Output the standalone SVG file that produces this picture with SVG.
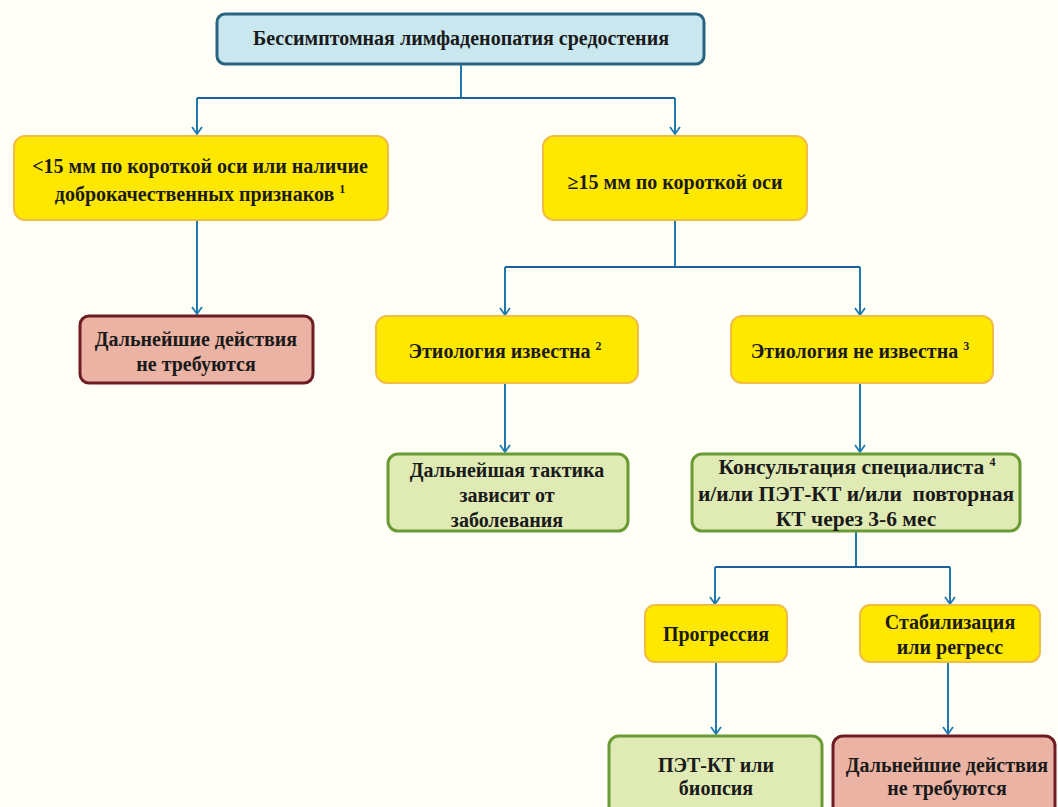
<svg xmlns="http://www.w3.org/2000/svg" width="1058" height="807" viewBox="0 0 1058 807">
<defs>
<marker id="arr" viewBox="0 0 12 12" refX="11" refY="6" markerWidth="12" markerHeight="12" markerUnits="userSpaceOnUse" orient="auto">
<path d="M4,1 L11,6 L4,11" fill="none" stroke="#1f7db3" stroke-width="1.8"/>
</marker>
<style>
text{font-family:"Liberation Serif","DejaVu Serif",serif;font-weight:bold;font-size:20px;fill:#1a1a1a;text-anchor:middle}
.sup{font-size:12px}
.big{font-size:21.5px}
.cyan{fill:#c8e7ef;stroke:#2b6480;stroke-width:3}
.yel{fill:#ffe800;stroke:#f2bd45;stroke-width:2}
.grn{fill:#dfeab4;stroke:#6a9b34;stroke-width:3}
.red{fill:#eab3a3;stroke:#6c1c22;stroke-width:3}
.con{fill:none;stroke:#1f78ad;stroke-width:2}
.hcon{fill:none;stroke:#1d5f98;stroke-width:2.2}
</style>
</defs>
<rect width="1058" height="807" fill="#fffef7"/>
<g id="connectors">
<path class="con" d="M461,64 V98"/>
<path class="hcon" d="M197,98 H675"/>
<path class="con" d="M197,98 V134" marker-end="url(#arr)"/>
<path class="con" d="M675,98 V134" marker-end="url(#arr)"/>
<path class="con" d="M197,220 V314" marker-end="url(#arr)"/>
<path class="con" d="M675,220 V267"/>
<path class="hcon" d="M505,267 H860"/>
<path class="con" d="M505,267 V315" marker-end="url(#arr)"/>
<path class="con" d="M860,267 V315" marker-end="url(#arr)"/>
<path class="con" d="M505,383 V452" marker-end="url(#arr)"/>
<path class="con" d="M860,383 V452" marker-end="url(#arr)"/>
<path class="con" d="M856,531 V567"/>
<path class="hcon" d="M715,567 H950"/>
<path class="con" d="M715,567 V604" marker-end="url(#arr)"/>
<path class="con" d="M950,567 V604" marker-end="url(#arr)"/>
<path class="con" d="M716,662 V734" marker-end="url(#arr)"/>
<path class="con" d="M948,662 V734" marker-end="url(#arr)"/>
</g>
<g id="n_top">
<rect class="cyan" x="217" y="14" width="487" height="50" rx="8"/>
<text x="461" y="45">Бессимптомная лимфаденопатия средостения</text>
</g>
<g id="n_lt15">
<rect class="yel" x="14" y="136" width="374" height="84" rx="11"/>
<text x="200" y="173">&lt;15 мм по короткой оси или наличие</text>
<text x="200" y="201">доброкачественных признаков <tspan class="sup" dy="-8">1</tspan></text>
</g>
<g id="n_ge15">
<rect class="yel" x="543" y="136" width="264" height="84" rx="11"/>
<text x="675" y="189">≥15 мм по короткой оси</text>
</g>
<g id="n_none1">
<rect class="red" x="80" y="316" width="233" height="67" rx="9"/>
<text x="196" y="346">Дальнейшие действия</text>
<text x="196" y="371">не требуются</text>
</g>
<g id="n_known">
<rect class="yel" x="376" y="316" width="262" height="67" rx="11"/>
<text x="505" y="358">Этиология известна <tspan class="sup" dy="-8">2</tspan></text>
</g>
<g id="n_unknown">
<rect class="yel" x="731" y="316" width="262" height="67" rx="11"/>
<text x="860" y="358">Этиология не известна <tspan class="sup" dy="-8">3</tspan></text>
</g>
<g id="n_tactic">
<rect class="grn" x="388" y="454" width="240" height="77" rx="10"/>
<text x="507" y="477">Дальнейшая тактика</text>
<text x="507" y="502">зависит от</text>
<text x="507" y="527">заболевания</text>
</g>
<g id="n_consult">
<rect class="grn" x="692" y="454" width="328" height="77" rx="10"/>
<text class="big" x="857" y="474">Консультация специалиста <tspan class="sup" dy="-8">4</tspan></text>
<text class="big" x="856" y="501" xml:space="preserve">и/или ПЭТ-КТ и/или  повторная</text>
<text class="big" x="856" y="526">КТ через 3-6 мес</text>
</g>
<g id="n_progress">
<rect class="yel" x="645" y="605" width="142" height="57" rx="10"/>
<text x="716" y="641">Прогрессия</text>
</g>
<g id="n_stable">
<rect class="yel" x="860" y="605" width="180" height="57" rx="10"/>
<text x="950" y="629">Стабилизация</text>
<text x="950" y="654">или регресс</text>
</g>
<g id="n_pet">
<rect class="grn" x="609" y="736" width="213" height="80" rx="10"/>
<text x="716" y="772">ПЭТ-КТ или</text>
<text x="716" y="795">биопсия</text>
</g>
<g id="n_none2">
<rect class="red" x="833" y="736" width="222" height="80" rx="10"/>
<text x="947" y="772">Дальнейшие действия</text>
<text x="947" y="795">не требуются</text>
</g>
</svg>
